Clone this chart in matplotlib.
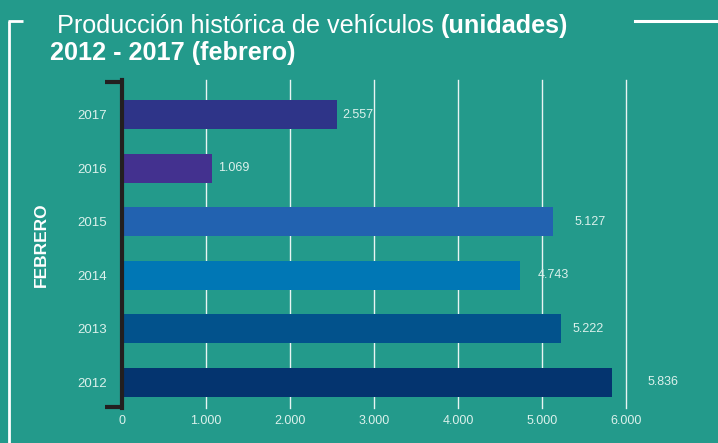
import numpy as np
import matplotlib.pyplot as plt
from matplotlib.lines import Line2D

# Data
years = ["2012", "2013", "2014", "2015", "2016", "2017"]
units = [5836, 5222, 4743, 5127, 1069, 2557]
bar_colors = ["#04346f", "#02528c", "#0077b5", "#2262b0", "#43318f", "#2e3488"]
x_ticks = [0, 1000, 2000, 3000, 4000, 5000, 6000]
# label gap after each bar end (pixels), as laid out in the original
label_gap = [35, 12, 17, 22, 6, 6]

bg = "#239a8b"
light = "#dcf1ec"
narrow = ["Liberation Sans Narrow", "Liberation Sans", "DejaVu Sans"]

fig = plt.figure(figsize=(7.18, 4.43), dpi=100, facecolor=bg)
ax = fig.add_axes([122 / 718, 1 - 408 / 443, 504 / 718, 328 / 443])
ax.set_facecolor(bg)

pos = np.arange(len(years))
ax.barh(pos, units, height=0.54, color=bar_colors, zorder=3)

def fmt(v):
    return f"{v:,}".replace(",", ".")

for p, v, g in zip(pos, units, label_gap):
    ax.annotate(fmt(v), (v, p), xytext=(g * 0.72, 0), textcoords="offset points",
                va="center", ha="left", color=light, fontsize=9,
                family=narrow, zorder=4, annotation_clip=False)

ax.set_xlim(0, 6000)
ax.set_ylim(-0.476, 5.644)
ax.set_xticks(x_ticks)
ax.set_xticklabels([fmt(t) for t in x_ticks], color=light, fontsize=9, family=narrow)
ax.set_yticks(pos)
ax.set_yticklabels(years, color=light, fontsize=9.5, family=narrow)
ax.tick_params(axis="both", length=0)
ax.tick_params(axis="y", pad=11)
ax.tick_params(axis="x", pad=5)

for t in x_ticks[1:]:
    ax.axvline(t, color="white", lw=1, alpha=0.9, zorder=1, clip_on=False)

for s in ["top", "right", "bottom"]:
    ax.spines[s].set_visible(False)
ax.spines["left"].set_color("#231f20")
ax.spines["left"].set_linewidth(3)
ax.spines["left"].set_zorder(5)

# bracket ends
fig.add_artist(Line2D([105 / 718, 123.5 / 718], [1 - 81.5 / 443, 1 - 81.5 / 443],
                      color="#231f20", lw=3, solid_capstyle="butt"))
fig.add_artist(Line2D([105 / 718, 123.5 / 718], [1 - 406.5 / 443, 1 - 406.5 / 443],
                      color="#231f20", lw=3, solid_capstyle="butt"))

# frame lines
fig.add_artist(Line2D([9 / 718, 9 / 718], [0, 1 - 21 / 443], color="white", lw=2,
                      solid_capstyle="butt"))
fig.add_artist(Line2D([8 / 718, 23 / 718], [1 - 21 / 443, 1 - 21 / 443], color="white", lw=2,
                      solid_capstyle="butt"))
fig.add_artist(Line2D([635 / 718, 1], [1 - 21 / 443, 1 - 21 / 443], color="white", lw=2.2))

# titles
t1 = fig.text(57 / 718, 1 - 33 / 443, "Producción histórica de vehículos ",
              color="white", fontsize=18.2, family=narrow, va="baseline")
fig.canvas.draw()
bb = t1.get_window_extent()
fig.text(bb.x1 / 718, 1 - 33 / 443, "(unidades)", color="white", fontsize=18.2,
         fontweight="bold", family=narrow, va="baseline")
fig.text(50 / 718, 1 - 60 / 443, "2012 - 2017 (febrero)", color="white", fontsize=18.2,
         fontweight="bold", family=narrow, va="baseline")

fig.text(41 / 718, 1 - 245 / 443, "FEBRERO", color="white", fontsize=12.5,
         fontweight="bold", family=narrow, rotation=90, va="center", ha="center")

fig.savefig("out.png", dpi=100, facecolor=bg)
